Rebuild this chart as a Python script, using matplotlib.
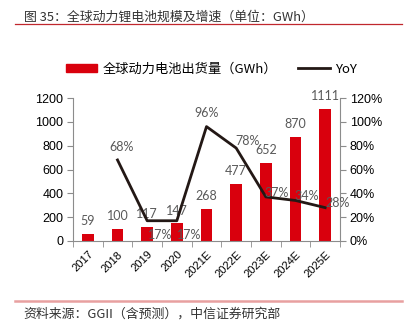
import matplotlib
matplotlib.use("Agg")
import matplotlib.pyplot as plt
import numpy as np
from matplotlib.ticker import FuncFormatter
from matplotlib.patches import Patch
from matplotlib.lines import Line2D

plt.rcParams['font.family'] = ['Liberation Sans', 'Noto Sans CJK SC', 'DejaVu Sans']

years = ["2017", "2018", "2019", "2020", "2021E", "2022E", "2023E", "2024E", "2025E"]
shipments = [59, 100, 117, 147, 268, 477, 652, 870, 1111]
yoy = [np.nan, 0.68, 0.17, 0.17, 0.96, 0.78, 0.37, 0.34, 0.28]
yoy_labels = ["", "68%", "17%", "17%", "96%", "78%", "37%", "34%", "28%"]
# label offsets in points (Excel-like placement)
yoy_offsets = [(0, 0), (3, 9), (9, -10), (9, -10), (0, 10), (8, 5), (8, 3), (8, 3), (9, 3)]

RED = "#d9000d"
GREY = "#595959"
AX = "#8c8c8c"
CJK = ['Noto Sans CJK SC', 'Liberation Sans']

fig = plt.figure(figsize=(4.04, 3.24), dpi=100)
ax = fig.add_axes([0.1807, 0.2562, 0.6609, 0.4413])
ax2 = ax.twinx()

x = np.arange(len(years))
ax.bar(x, shipments, width=0.4, color=RED, zorder=2)
for xi, v in zip(x, shipments):
    ax.annotate(str(v), (xi, v), xytext=(0, 5), textcoords="offset points",
                ha="center", va="bottom", fontsize=9, color=GREY, family="Lato")

ax2.plot(x, yoy, color="#231815", lw=2, zorder=3)
for xi, v, lab, off in zip(x, yoy, yoy_labels, yoy_offsets):
    if lab:
        ax2.annotate(lab, (xi, v), xytext=off, textcoords="offset points",
                     ha="center", va="center", fontsize=9, color=GREY, family="Lato")

ax.set_xlim(-0.5, len(years) - 0.5)
ax.set_ylim(0, 1200)
ax.set_yticks(np.arange(0, 1201, 200))
ax2.set_ylim(0, 1.2)
ax2.set_yticks(np.arange(0, 1.21, 0.2))
ax2.yaxis.set_major_formatter(FuncFormatter(lambda v, p: f"{v*100:.0f}%"))

ax.set_xticks(x)
ax.set_xticklabels(years, rotation=45, ha="right", rotation_mode="anchor", fontsize=8)
ax.tick_params(axis="x", length=0, pad=6)
ax.set_xticks(np.arange(-0.5, len(years), 1), minor=True)
ax.tick_params(axis="x", which="minor", length=4, color=AX, direction="out")

for a in (ax, ax2):
    for s in a.spines.values():
        s.set_visible(False)
    a.tick_params(axis="y", labelsize=9, length=4, color=AX, pad=3)
ax.spines["bottom"].set_visible(True)
ax.spines["bottom"].set_color(AX)
ax.spines["left"].set_visible(True)
ax.spines["left"].set_color(AX)
ax2.spines["right"].set_visible(True)
ax2.spines["right"].set_color(AX)

# legend
handles = [Patch(color=RED), Line2D([0], [0], color="#231815", lw=2)]
fig.legend(handles, ["全球动力电池出货量（GWh）", "YoY"], loc="center",
           bbox_to_anchor=(0.5235, 0.787), ncol=2, frameon=False,
           prop={"family": CJK, "size": 9.5}, handlelength=2.4, handleheight=0.5,
           columnspacing=1.6, handletextpad=0.4)

# title, rules and source
fig.text(0.059, 0.947, "图 35：全球动力锂电池规模及增速（单位：GWh）", fontsize=9.3,
         family=CJK, color="#333333", va="center")
fig.add_artist(Line2D([0.037, 0.995], [0.925, 0.925], color="#c0272d", lw=0.9))
fig.add_artist(Line2D([0.037, 0.995], [0.07, 0.07], color="#e8a0a0", lw=1.8))
fig.text(0.059, 0.031, "资料来源：GGII（含预测），中信证券研究部", fontsize=9.3,
         family=CJK, color="#333333", va="center")

fig.savefig("out.png", dpi=100)
